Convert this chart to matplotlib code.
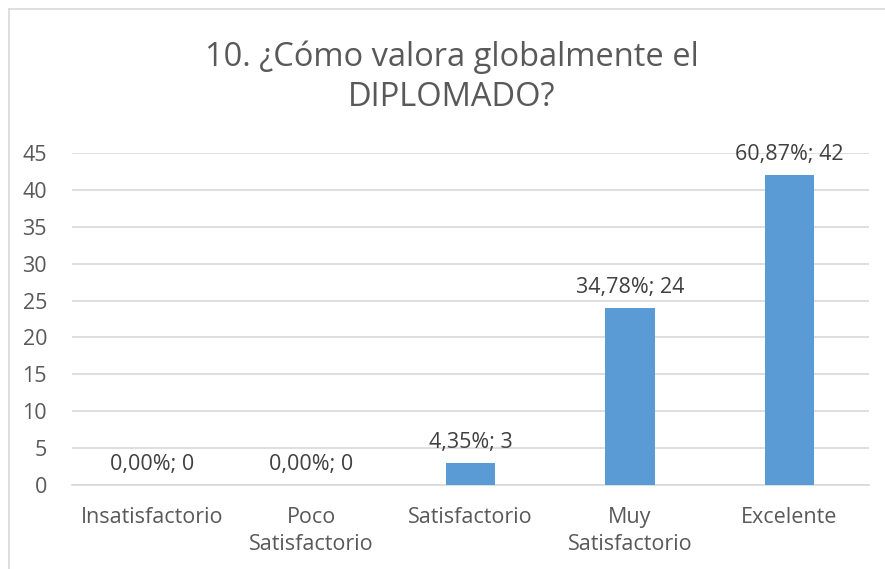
import matplotlib.pyplot as plt
from matplotlib.lines import Line2D

categories = ["Insatisfactorio", "Poco\nSatisfactorio", "Satisfactorio",
              "Muy\nSatisfactorio", "Excelente"]
counts = [0, 0, 3, 24, 42]
percents = ["0,00%", "0,00%", "4,35%", "34,78%", "60,87%"]
yticks = [0, 5, 10, 15, 20, 25, 30, 35, 40, 45]

plt.rcParams['font.family'] = ['Open Sans', 'DejaVu Sans']
txt = "#595959"
grid = "#d9d9d9"

fig = plt.figure(figsize=(8.85, 5.69), dpi=100)
ax = fig.add_axes([72 / 885, 1 - 485 / 569, 797 / 885, 332 / 569])

x = range(len(categories))
bars = ax.bar(x, counts, width=0.31, color="#5b9bd5", zorder=3)
for b, c, p in zip(bars, counts, percents):
    ax.annotate(f"{p}; {c}", (b.get_x() + b.get_width() / 2, c),
                xytext=(0, 7), textcoords="offset points",
                ha="center", va="bottom", fontsize=15.5, color="#404040")

ax.set_xlim(-0.5, len(categories) - 0.5)
ax.set_ylim(0, 45)
ax.set_yticks(yticks)
ax.set_xticks(list(x))
ax.set_xticklabels(categories, fontsize=15.5, color=txt, linespacing=1.35)
ax.tick_params(axis="y", labelsize=15.5, labelcolor=txt, length=0, pad=18)
ax.tick_params(axis="x", length=0, pad=16)
for lab in ax.get_yticklabels():
    lab.set_horizontalalignment("right")
ax.yaxis.grid(True, color=grid, linewidth=1.2, zorder=0)
for s in ["top", "right", "left"]:
    ax.spines[s].set_visible(False)
ax.spines["bottom"].set_color(grid)
ax.spines["bottom"].set_linewidth(1.2)

fig.text(452 / 885, 1 - 77 / 569, "10. ¿Cómo valora globalmente el\nDIPLOMADO?",
         ha="center", va="center", fontsize=23.5, color=txt, linespacing=1.3)

# chart area border (cut off at right and bottom)
fig.add_artist(Line2D([8.5 / 885, 8.5 / 885], [0, 1 - 8.5 / 569],
                      transform=fig.transFigure, color=grid, linewidth=1.2))
fig.add_artist(Line2D([8.5 / 885, 1], [1 - 8.5 / 569, 1 - 8.5 / 569],
                      transform=fig.transFigure, color=grid, linewidth=1.2))

fig.savefig("out.png", dpi=100)
